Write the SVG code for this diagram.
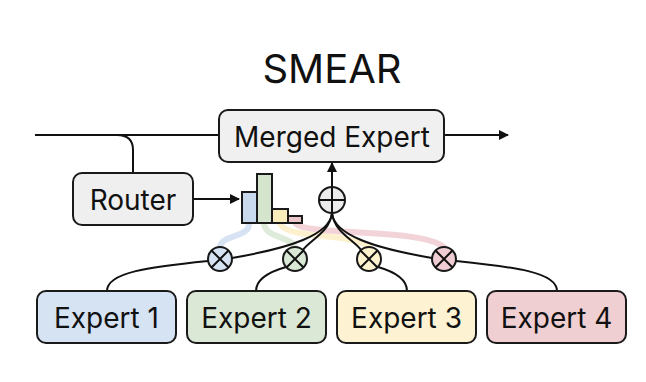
<svg xmlns="http://www.w3.org/2000/svg" width="646" height="382" viewBox="0 0 646 382">
<style>
text{font-family:Inter,"Noto Sans","Liberation Sans",sans-serif;fill:#111;text-anchor:middle}
.box{stroke:#1a1a1a;stroke-width:2}
.ln{fill:none;stroke:#111;stroke-width:2}
.band{fill:none;stroke-width:6;stroke-linecap:round;opacity:0.75}
.lbl{font-size:28px}
</style>
<defs>
<marker id="ah" viewBox="0 0 10 10" refX="9" refY="5" markerWidth="5" markerHeight="5" orient="auto"><path d="M0,0L10,5L0,10z" fill="#111"/></marker>
</defs>
<rect width="646" height="382" fill="#fff"/>
<text x="332" y="83" style="font-size:40px">SMEAR</text>
<g id="bands">
<path class="band" stroke="#c9d9ee" d="M249,224 C249,238 222,234 220,247"/>
<path class="band" stroke="#d4e4cd" d="M264,224 C266,238 290,236 295,247"/>
<path class="band" stroke="#fbecbb" d="M280,224 C290,240 350,232 369,247"/>
<path class="band" stroke="#edc6cb" d="M296,224 C310,236 420,228 444,247"/>
</g>
<g id="connectors">
<path class="ln" d="M35,135 H219"/>
<path class="ln" d="M117,135 Q133,135 133,150 V173"/>
<path class="ln" d="M444,135 H508" marker-end="url(#ah)"/>
<path class="ln" d="M193,199 H239" marker-end="url(#ah)"/>
<path class="ln" d="M332,187 V163" marker-end="url(#ah)"/>
<path class="ln" d="M332,213 C330,235 290,248 232,258"/>
<path class="ln" d="M332,213 C330,232 310,240 303,250"/>
<path class="ln" d="M332,213 C334,232 354,240 361,250"/>
<path class="ln" d="M332,213 C334,235 374,248 432,258"/>
<path class="ln" d="M107,291 C107,272 150,267 208,261"/>
<path class="ln" d="M256,291 C256,278 272,271 286,267"/>
<path class="ln" d="M407,291 C407,278 392,271 378,267"/>
<path class="ln" d="M557,291 C557,272 514,267 456,261"/>
</g>
<g id="merged"><rect class="box" x="219" y="110" width="225" height="52" rx="9" fill="#f0f0f0"/><text class="lbl" x="332" y="147">Merged Expert</text></g>
<g id="router"><rect class="box" x="73" y="173" width="120" height="52" rx="9" fill="#efefef"/><text class="lbl" x="133" y="210">Router</text></g>
<g id="histogram" class="box">
<rect x="242" y="192" width="15" height="31" fill="#c9d9ee"/>
<rect x="257" y="174" width="15" height="49" fill="#d4e4cd"/>
<rect x="272" y="209" width="16" height="14" fill="#fbecbb"/>
<rect x="288" y="216" width="14" height="7" fill="#edc6cb"/>
</g>
<g id="sum"><circle class="box" cx="332" cy="200" r="13" fill="#ececec"/><path class="ln" d="M319,200H345M332,187V213"/></g>
<g id="m1"><circle class="box" cx="220" cy="259" r="12" fill="#d5e3f3"/><path class="ln" d="M211.5,250.5L228.5,267.5M228.5,250.5L211.5,267.5"/></g>
<g id="m2"><circle class="box" cx="295" cy="259" r="12" fill="#d9e8d5"/><path class="ln" d="M286.5,250.5L303.5,267.5M303.5,250.5L286.5,267.5"/></g>
<g id="m3"><circle class="box" cx="369" cy="259" r="12" fill="#fdf3cf"/><path class="ln" d="M360.5,250.5L377.5,267.5M377.5,250.5L360.5,267.5"/></g>
<g id="m4"><circle class="box" cx="444" cy="259" r="12" fill="#f0cdd2"/><path class="ln" d="M435.5,250.5L452.5,267.5M452.5,250.5L435.5,267.5"/></g>
<g id="e1"><rect class="box" x="37" y="291" width="139" height="52" rx="9" fill="#d5e3f3"/><text class="lbl" x="106.5" y="328">Expert 1</text></g>
<g id="e2"><rect class="box" x="187" y="291" width="139" height="52" rx="9" fill="#dbe8d6"/><text class="lbl" x="256.5" y="328">Expert 2</text></g>
<g id="e3"><rect class="box" x="337" y="291" width="139" height="52" rx="9" fill="#fdf3d2"/><text class="lbl" x="406.5" y="328">Expert 3</text></g>
<g id="e4"><rect class="box" x="487" y="291" width="139" height="52" rx="9" fill="#f0cfd3"/><text class="lbl" x="556.5" y="328">Expert 4</text></g>
</svg>
